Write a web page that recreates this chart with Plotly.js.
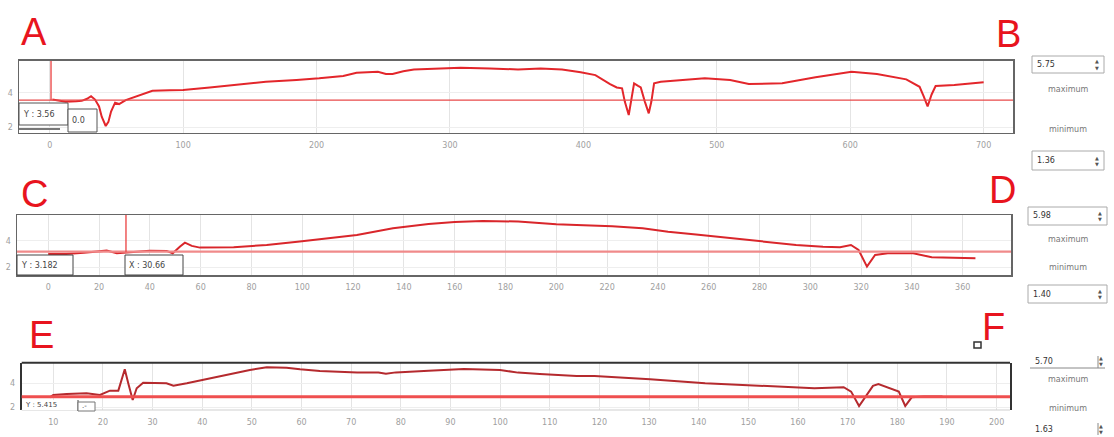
<!DOCTYPE html>
<html>
<head>
<meta charset="utf-8">
<script src="https://cdn.plot.ly/plotly-3.0.1.min.js"></script>
<style>html,body{margin:0;padding:0;background:#fff;}#chart{width:1114px;height:437px;}</style>
</head>
<body>
<div id="chart"></div>
<script>
// ---------- data ----------
// Panel A
const A_x = [2, 12, 20, 24, 28, 31, 34, 37, 39, 42, 44, 46, 49, 52, 57, 62, 67, 77, 90, 100, 120, 137, 162, 185, 202, 220, 230, 246, 252, 257, 265, 273, 290, 308, 330, 351, 368, 384, 398, 409, 420, 425, 429, 431, 434, 436, 438, 441, 443, 446, 449, 451, 453, 458, 475, 491, 510, 524, 549, 574, 601, 620, 642, 652, 655, 658, 661, 664, 678, 690, 700];
const A_y = [3.6, 3.48, 3.5, 3.53, 3.65, 3.8, 3.6, 3.2, 2.6, 2.06, 2.3, 2.9, 3.42, 3.34, 3.57, 3.7, 3.87, 4.12, 4.14, 4.16, 4.3, 4.45, 4.64, 4.75, 4.84, 4.98, 5.17, 5.22, 5.1, 5.09, 5.25, 5.36, 5.42, 5.46, 5.42, 5.36, 5.42, 5.36, 5.2, 5.03, 4.5, 4.31, 4.26, 3.5, 2.7, 3.6, 4.55, 4.4, 4.31, 3.5, 2.8, 3.5, 4.55, 4.64, 4.74, 4.84, 4.74, 4.51, 4.55, 4.9, 5.22, 5.09, 4.78, 4.35, 3.8, 3.2, 3.9, 4.39, 4.45, 4.55, 4.62];
const A_ticks = [0, 100, 200, 300, 400, 500, 600, 700];
const A_threshold = 3.57;
const A_cursor = 1;

// Panel C
const C_x = [0, 7, 14, 20, 23, 27, 30.6, 40, 46.6, 49, 51.9, 53.8, 56.5, 59.7, 73, 86, 99, 107, 121.5, 135.7, 149.7, 160, 171, 185, 193.6, 200, 208, 222, 234, 244, 255, 265.6, 280, 294.4, 305, 311.7, 316, 319, 322.3, 325.5, 330.5, 340.5, 347.8, 356, 365];
const C_y = [3.0, 3.0, 3.1, 3.2, 3.26, 3.06, 3.1, 3.26, 3.24, 3.06, 3.57, 3.87, 3.62, 3.49, 3.52, 3.69, 3.95, 4.13, 4.46, 4.97, 5.3, 5.45, 5.53, 5.48, 5.33, 5.27, 5.22, 5.12, 4.97, 4.71, 4.5, 4.28, 3.98, 3.69, 3.55, 3.52, 3.69, 3.31, 2.04, 2.93, 3.06, 3.06, 2.75, 2.72, 2.68];
const C_ticks = [0, 20, 40, 60, 80, 100, 120, 140, 160, 180, 200, 220, 240, 260, 280, 300, 320, 340, 360];
const C_threshold = 3.18;
const C_cursor = 30.6;

// Panel E
const E_x = [9.3, 10, 12.7, 16.7, 19.4, 21.4, 23.1, 24.4, 25.1, 26, 26.8, 28.1, 32.8, 34.2, 36.9, 42.9, 49.6, 53, 57, 59.7, 63.7, 71.2, 75.5, 77, 79, 85.6, 92.7, 100, 103.6, 108, 115.4, 119, 130.2, 141.3, 152.3, 163.3, 169.2, 170.7, 172.3, 174, 175.1, 176.2, 178.8, 180.3, 181.6, 182.9, 185.4, 189.1];
const E_y = [2.84, 3.03, 3.12, 3.17, 3.03, 3.39, 3.39, 5.16, 4.0, 2.62, 3.59, 4.05, 4.0, 3.8, 4.0, 4.5, 5.1, 5.32, 5.29, 5.16, 5.02, 4.88, 4.88, 4.78, 4.9, 5.04, 5.18, 5.1, 4.88, 4.77, 4.6, 4.6, 4.33, 4.0, 3.78, 3.59, 3.67, 3.31, 2.12, 3.17, 3.78, 3.94, 3.5, 3.31, 2.12, 2.84, 2.9, 2.9];
const E_ticks = [10, 20, 30, 40, 50, 60, 70, 80, 90, 100, 110, 120, 130, 140, 150, 160, 170, 180, 190, 200];
const E_threshold = 2.89;

const Y_ticks = [2, 4];

// Labels
const panelLetters = ['A', 'B', 'C', 'D', 'E', 'F'];
const readouts = ['Y : 3.56', '0.0', 'Y : 3.182', 'X : 30.66', 'Y : 5.415', '.-'];
const controlValues = ['5.75', '1.36', '5.98', '1.40', '5.70', '1.63'];
const controlLabels = ['maximum', 'minimum'];

// ---------- layout helpers ----------
const W = 1114, H = 437;
const fx = p => p / W;
const fy = p => 1 - p / H;
const RED = '#e8141e';

function xAx(domain, range, ticks) {
  return {
    domain: domain, range: range, tickvals: ticks, ticktext: ticks.map(String),
    tickfont: {family: 'DejaVu Sans', size: 8, color: '#a0a0a0'},
    ticks: 'outside', ticklen: 4, tickcolor: 'rgba(0,0,0,0)',
    showgrid: true, gridcolor: '#e4e4e4', gridwidth: 1, zeroline: false,
    showline: true, mirror: true, linecolor: '#666', linewidth: 1.5, fixedrange: true
  };
}
function yAx(domain, range) {
  return {
    domain: domain, range: range, tickvals: Y_ticks, ticktext: Y_ticks.map(String),
    tickfont: {family: 'DejaVu Sans', size: 8, color: '#a0a0a0'},
    ticks: 'outside', ticklen: 3, tickcolor: 'rgba(0,0,0,0)',
    showgrid: true, gridcolor: '#eeeeee', gridwidth: 1, zeroline: false,
    showline: true, mirror: true, linecolor: '#666', linewidth: 1.5, fixedrange: true
  };
}

const traces = [
  {x: A_x, y: A_y, xaxis: 'x', yaxis: 'y', mode: 'lines', line: {color: '#e3262b', width: 2}},
  {x: C_x, y: C_y, xaxis: 'x2', yaxis: 'y2', mode: 'lines', line: {color: '#d9262b', width: 2}},
  {x: E_x, y: E_y, xaxis: 'x3', yaxis: 'y3', mode: 'lines', line: {color: '#b52a2e', width: 2}}
];

const xa1 = xAx([fx(19), fx(1013)], [-23, 722], A_ticks);
const ya1 = yAx([fy(132.7), fy(60.7)], [1.67, 5.87]);
const xa2 = xAx([fx(17), fx(1011)], [-12.3, 379], C_ticks);
const ya2 = yAx([fy(275), fy(215)], [1.40, 5.98]);
const xa3 = xAx([fx(21.7), fx(1010)], [3.64, 202.7], E_ticks);
xa3.showline = false;
const ya3 = yAx([fy(410), fy(362.7)], [1.79, 5.70]);
ya3.linecolor = '#333'; ya3.linewidth = 2;
xa1.anchor = 'y'; xa2.anchor = 'y2'; xa3.anchor = 'y3';
ya1.anchor = 'x'; ya2.anchor = 'x2'; ya3.anchor = 'x3';

function rectPx(x0, y0, x1, y1, lineColor, fill, lw) {
  return {type: 'rect', xref: 'paper', yref: 'paper', x0: fx(x0), x1: fx(x1), y0: fy(y1), y1: fy(y0),
          line: {color: lineColor, width: lw === undefined ? 1 : lw}, fillcolor: fill || 'rgba(0,0,0,0)', layer: 'above'};
}
function linePx(x0, y0, x1, y1, color, w) {
  return {type: 'line', xref: 'paper', yref: 'paper', x0: fx(x0), x1: fx(x1), y0: fy(y0), y1: fy(y1),
          line: {color: color, width: w}, layer: 'above'};
}

const shapes = [
  // thresholds
  {type: 'line', xref: 'x domain', yref: 'y', x0: 0, x1: 1, y0: A_threshold, y1: A_threshold, line: {color: '#e84a4a', width: 1.2}},
  {type: 'line', xref: 'x2 domain', yref: 'y2', x0: 0, x1: 1, y0: C_threshold, y1: C_threshold, line: {color: '#f08a8a', width: 2.2}},
  {type: 'line', xref: 'x3 domain', yref: 'y3', x0: 0, x1: 1, y0: E_threshold, y1: E_threshold, line: {color: '#ef4f4f', width: 3}},
  // cursors
  {type: 'line', xref: 'x', yref: 'y', x0: A_cursor, x1: A_cursor, y0: A_threshold, y1: 5.87, line: {color: '#e83030', width: 1.2}},
  {type: 'line', xref: 'x2', yref: 'y2', x0: C_cursor, x1: C_cursor, y0: C_threshold, y1: 5.98, line: {color: '#e83030', width: 1.2}},
  // E box top / bottom
  linePx(21.7, 362.7, 1010, 362.7, '#333', 2),
  linePx(21.7, 410, 1010, 410, '#cfcfcf', 1),
  // readout boxes
  rectPx(19, 103, 68, 125, '#555', '#fff', 1),
  linePx(19, 129, 60, 129, '#777', 2),
  rectPx(68, 109, 97, 132, '#555', '#fff', 1),
  rectPx(17, 255, 73, 275, '#444', '#fff', 1),
  rectPx(125, 255, 183, 275, '#444', '#fff', 1),
  rectPx(22, 400, 78, 410, 'rgba(0,0,0,0)', '#fff', 0),
  linePx(78, 400, 78, 411, '#444', 1),
  rectPx(78, 402, 95, 411, '#777', '#fff', 1),
  // control boxes
  rectPx(1032, 56, 1104, 73, '#aaa', '#fff', 1),
  rectPx(1032, 151, 1104, 170, '#aaa', '#fff', 1),
  rectPx(1028, 207, 1107, 225, '#aaa', '#fff', 1),
  rectPx(1028, 285, 1107, 303, '#aaa', '#fff', 1),
  linePx(1030, 368, 1105, 368, '#888', 1),
  linePx(1098, 356, 1098, 368, '#888', 1),
  linePx(1098, 423, 1098, 435, '#888', 1),
  // small square near F
  rectPx(974, 342, 981, 348, '#333', '#fff', 1.5)
];

const annotations = [];
function txt(x, y, text, size, color, anchor, family) {
  annotations.push({xref: 'paper', yref: 'paper', x: fx(x), y: fy(y), text: text, showarrow: false,
    xanchor: anchor || 'center', yanchor: 'middle',
    font: {family: family || 'DejaVu Sans', size: size, color: color}});
}
// big letters
const letterPos = [[34, 32], [1008, 34], [34, 194], [1002, 190], [41, 335], [993, 327]];
panelLetters.forEach((l, i) => txt(letterPos[i][0], letterPos[i][1], l, 38, RED, 'center', 'Liberation Sans'));
// readouts
txt(21, 114, readouts[0], 8, '#444', 'left');
txt(70, 120, readouts[1], 8, '#444', 'left');
txt(19, 265, readouts[2], 8, '#444', 'left');
txt(127, 265, readouts[3], 8, '#444', 'left');
txt(23, 405, readouts[4], 7, '#444', 'left');
txt(80, 406, readouts[5], 7, '#444', 'left');
// controls
const ctrl = [
  {x: 1035, y: 64.5, v: controlValues[0], ax: 1097}, {x: 1035, y: 160.5, v: controlValues[1], ax: 1097},
  {x: 1031, y: 216, v: controlValues[2], ax: 1100}, {x: 1031, y: 294, v: controlValues[3], ax: 1100},
  {x: 1033, y: 361, v: controlValues[4], ax: 1101}, {x: 1033, y: 429, v: controlValues[5], ax: 1101}
];
ctrl.forEach(c => {
  txt(c.x, c.y, c.v, 8, '#333', 'left');
  txt(c.ax, c.y - 3, '\u25B2', 5, '#555');
  txt(c.ax, c.y + 3, '\u25BC', 5, '#555');
});
const ml = [[89, 129], [239, 267], [379, 408]];
ml.forEach(p => {
  txt(1068, p[0], controlLabels[0], 8, '#777');
  txt(1068, p[1], controlLabels[1], 8, '#777');
});

const layout = {
  width: W, height: H, margin: {l: 0, r: 0, t: 0, b: 0},
  paper_bgcolor: '#fff', plot_bgcolor: '#fff', showlegend: false, hovermode: false,
  xaxis: xa1, yaxis: ya1, xaxis2: xa2, yaxis2: ya2, xaxis3: xa3, yaxis3: ya3,
  shapes: shapes, annotations: annotations
};
Plotly.newPlot('chart', traces, layout, {staticPlot: true, displayModeBar: false});
</script>
</body>
</html>
